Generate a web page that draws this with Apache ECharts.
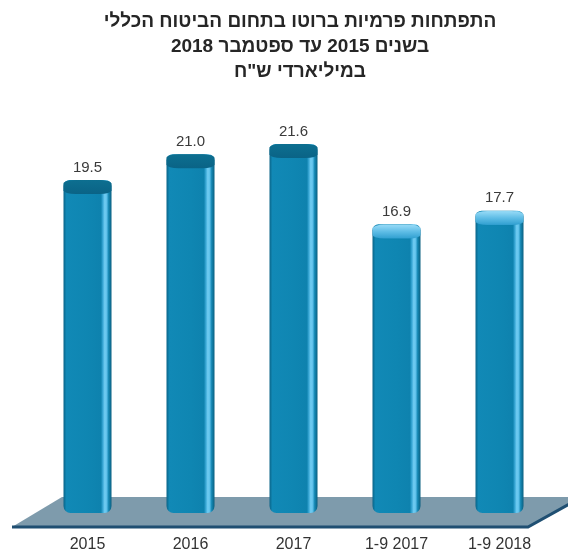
<!DOCTYPE html>
<html>
<head>
<meta charset="utf-8">
<script src="https://cdn.jsdelivr.net/npm/echarts@6/dist/echarts.min.js"></script>
<style>
html,body{margin:0;padding:0;background:#fff;}
#c{width:568px;height:557px;}
</style>
</head>
<body>
<div id="c"></div>
<script>
const titleLines = ['התפתחות פרמיות ברוטו בתחום הביטוח הכללי', 'בשנים 2015 עד ספטמבר 2018', 'במיליארדי ש"ח'];
const categories = ['2015', '2016', '2017', '1-9 2017', '1-9 2018'];
const values = [19.5, 21.0, 21.6, 16.9, 17.7];
const partialYear = [false, false, false, true, true];

const RLE = '\u202B', PDF = '\u202C';

const bodyGrad = new echarts.graphic.LinearGradient(0, 0, 1, 0, [
  {offset: 0, color: '#0a6488'},
  {offset: 0.06, color: '#1189b6'},
  {offset: 0.5, color: '#0f86b2'},
  {offset: 0.78, color: '#0e82ae'},
  {offset: 0.82, color: '#3aa8d6'},
  {offset: 0.86, color: '#72cdf3'},
  {offset: 0.9, color: '#5ec0ea'},
  {offset: 0.94, color: '#1588b4'},
  {offset: 1, color: '#0a5f80'}
]);
const darkCap = new echarts.graphic.LinearGradient(0, 0, 0, 1, [
  {offset: 0, color: '#0d6f90'},
  {offset: 1, color: '#0a6386'}
]);
const lightCap = new echarts.graphic.LinearGradient(0, 0, 0, 1, [
  {offset: 0, color: '#9adcf8'},
  {offset: 0.5, color: '#5fbde6'},
  {offset: 1, color: '#2f9fd0'}
]);

const chart = echarts.init(document.getElementById('c'), null, {renderer: 'canvas'});
chart.setOption({
  animation: false,
  backgroundColor: '#ffffff',
  title: {
    text: titleLines.map(s => RLE + s + PDF).join('\n'),
    left: 300,
    textAlign: 'center',
    top: 9,
    padding: 0,
    textStyle: {
      fontFamily: 'Liberation Sans, Arial, sans-serif',
      fontSize: 19,
      fontWeight: 'bold',
      color: '#262626',
      lineHeight: 25
    }
  },
  graphic: [
    {
      type: 'polygon', z: -10,
      shape: {points: [[12, 527], [62, 497], [582, 497], [528, 527]]},
      style: {fill: '#7e9bac'}
    },
    {
      type: 'polyline', z: -9,
      shape: {points: [[12, 527], [528, 527], [582, 497]]},
      style: {stroke: '#1f4f72', lineWidth: 3, fill: null}
    }
  ],
  grid: {left: 36, right: 17, top: 86, bottom: 44},
  xAxis: {
    type: 'category',
    data: categories,
    axisLine: {show: false},
    axisTick: {show: false},
    axisLabel: {
      margin: 24,
      fontSize: 16,
      color: '#333',
      fontFamily: 'Liberation Sans, Arial, sans-serif'
    }
  },
  yAxis: {
    type: 'value', min: 0, max: 25, show: false,
    splitLine: {show: false}
  },
  series: [
    {
      type: 'bar',
      data: values,
      barWidth: 48,
      z: 2,
      itemStyle: {color: bodyGrad, borderRadius: [6, 6, 7, 7]},
      label: {
        show: true,
        position: 'top',
        distance: 5,
        fontSize: 15,
        color: '#3a3a3a',
        fontFamily: 'Liberation Sans, Arial, sans-serif',
        formatter: p => p.value.toFixed(1)
      }
    },
    {
      type: 'pictorialBar',
      data: values.map((v, i) => ({
        value: v,
        itemStyle: partialYear[i]
          ? {color: lightCap, borderColor: '#1d7aa6', borderWidth: 1}
          : {color: darkCap}
      })),
      symbol: 'roundRect',
      symbolSize: [48, 14],
      symbolPosition: 'end',
      z: 3,
      silent: true
    }
  ]
});
</script>
</body>
</html>
